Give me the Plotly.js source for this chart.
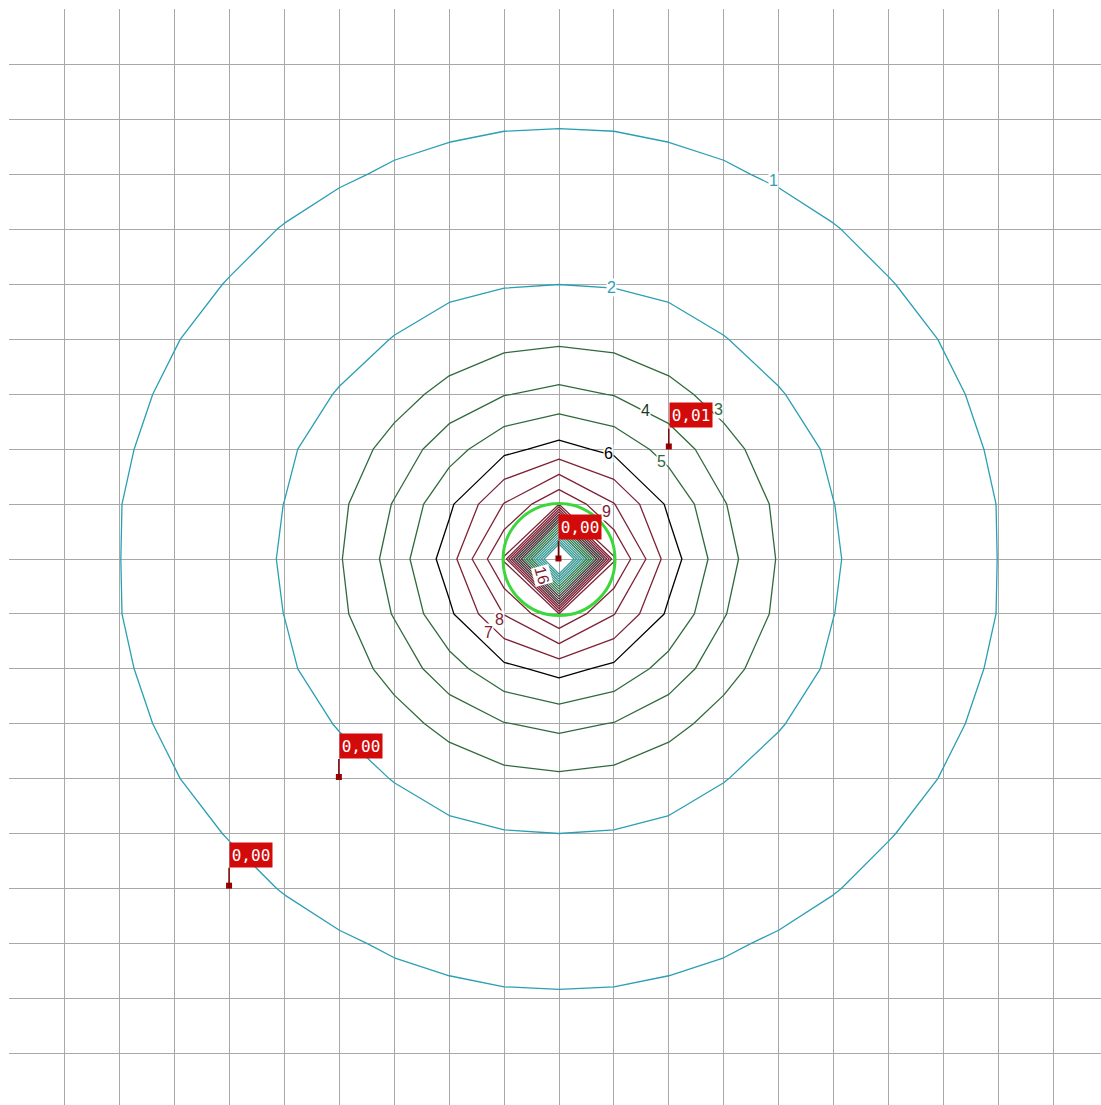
<!DOCTYPE html>
<html>
<head>
<meta charset="utf-8">
<script src="https://cdn.plot.ly/plotly-3.0.1.min.js"></script>
<style>
html,body{margin:0;padding:0;background:#fff;}
#chart{width:1101px;height:1105px;}
</style>
</head>
<body>
<div id="chart"></div>
<script>
// grid node coordinates (grid cells)
const nodeX = [0,1,2,3,4,5,6,7,8,9,10,11,12,13,14,15,16,17,18,19,20];
const nodeY = [0,1,2,3,4,5,6,7,8,9,10,11,12,13,14,15,16,17,18,19,20];

// estimated field values at grid nodes (read off the contour positions)
const zValues = [
[0.33,0.36,0.40,0.44,0.48,0.52,0.56,0.59,0.62,0.63,0.64,0.63,0.62,0.59,0.56,0.52,0.48,0.44,0.40,0.36,0.33],
[0.36,0.40,0.45,0.50,0.56,0.61,0.66,0.71,0.74,0.77,0.78,0.77,0.74,0.71,0.66,0.61,0.56,0.50,0.45,0.40,0.36],
[0.40,0.45,0.51,0.58,0.65,0.72,0.79,0.86,0.91,0.95,0.96,0.95,0.91,0.86,0.79,0.72,0.65,0.58,0.51,0.45,0.40],
[0.44,0.51,0.58,0.67,0.76,0.85,0.95,1.05,1.13,1.19,1.21,1.19,1.13,1.05,0.95,0.85,0.76,0.67,0.58,0.51,0.44],
[0.49,0.57,0.66,0.76,0.88,1.02,1.16,1.31,1.43,1.51,1.54,1.51,1.43,1.31,1.16,1.02,0.88,0.76,0.66,0.57,0.49],
[0.53,0.63,0.74,0.87,1.02,1.21,1.41,1.63,1.81,1.95,2.00,1.95,1.81,1.63,1.41,1.21,1.02,0.87,0.74,0.63,0.53],
[0.57,0.68,0.81,0.98,1.18,1.43,1.71,2.03,2.39,2.69,2.82,2.69,2.39,2.03,1.71,1.43,1.18,0.98,0.81,0.68,0.57],
[0.61,0.73,0.88,1.08,1.34,1.65,2.05,2.62,3.31,3.96,4.25,3.96,3.31,2.62,2.05,1.65,1.34,1.08,0.88,0.73,0.61],
[0.64,0.77,0.94,1.17,1.47,1.86,2.44,3.35,4.60,5.73,6.35,5.73,4.60,3.35,2.44,1.86,1.47,1.17,0.94,0.77,0.64],
[0.66,0.80,0.99,1.24,1.56,2.01,2.78,4.07,5.81,8.04,9.95,8.04,5.81,4.07,2.78,2.01,1.56,1.24,0.99,0.80,0.66],
[0.67,0.81,0.995,1.26,1.60,2.07,2.92,4.40,6.50,10.10,32.0,10.10,6.50,4.40,2.92,2.07,1.60,1.26,0.995,0.81,0.67],
[0.66,0.80,0.99,1.24,1.56,2.01,2.78,4.07,5.81,8.04,9.95,8.04,5.81,4.07,2.78,2.01,1.56,1.24,0.99,0.80,0.66],
[0.64,0.77,0.94,1.17,1.47,1.86,2.44,3.35,4.60,5.73,6.35,5.73,4.60,3.35,2.44,1.86,1.47,1.17,0.94,0.77,0.64],
[0.61,0.73,0.88,1.08,1.34,1.65,2.05,2.62,3.31,3.96,4.25,3.96,3.31,2.62,2.05,1.65,1.34,1.08,0.88,0.73,0.61],
[0.57,0.68,0.81,0.98,1.18,1.43,1.71,2.03,2.39,2.69,2.82,2.69,2.39,2.03,1.71,1.43,1.18,0.98,0.81,0.68,0.57],
[0.53,0.63,0.74,0.87,1.02,1.21,1.41,1.63,1.81,1.95,2.00,1.95,1.81,1.63,1.41,1.21,1.02,0.87,0.74,0.63,0.53],
[0.49,0.57,0.66,0.76,0.88,1.02,1.16,1.31,1.43,1.51,1.54,1.51,1.43,1.31,1.16,1.02,0.88,0.76,0.66,0.57,0.49],
[0.44,0.51,0.58,0.67,0.76,0.85,0.95,1.05,1.13,1.19,1.21,1.19,1.13,1.05,0.95,0.85,0.76,0.67,0.58,0.51,0.44],
[0.40,0.45,0.51,0.58,0.65,0.72,0.79,0.86,0.91,0.95,0.96,0.95,0.91,0.86,0.79,0.72,0.65,0.58,0.51,0.45,0.40],
[0.36,0.40,0.45,0.50,0.56,0.61,0.66,0.71,0.74,0.77,0.78,0.77,0.74,0.71,0.66,0.61,0.56,0.50,0.45,0.40,0.36],
[0.33,0.36,0.40,0.44,0.48,0.52,0.56,0.59,0.62,0.63,0.64,0.63,0.62,0.59,0.56,0.52,0.48,0.44,0.40,0.36,0.33]
];

// contour level groups: [start, end, colour]
const levelGroups = [
  [1, 2, '#2b9fb3'],
  [3, 5, '#2f6a3d'],
  [6, 6, '#000000'],
  [7, 13, '#7e2236'],
  [14, 17, '#4a3238'],
  [18, 21, '#2e7a4c'],
  [22, 26, '#3a9a96']
];

// contour labels
const labelText  = ['1','2','3','4','5','6','7','8','9','16'];
const labelX     = [13.90,10.95,12.90,11.57,11.86,10.91,8.71,8.91,10.86,9.69];
const labelY     = [3.11,5.05,7.27,7.29,8.23,8.07,11.33,11.11,9.14,10.30];
const labelColor = ['#2b9fb3','#2b9fb3','#2f6a3d','#1e3a25','#2f6a3d','#000000','#7e2236','#7e2236','#7e2236','#7e2236'];

// receptor flags
const flagX    = [9.99, 12.00, 5.99, 3.99];
const flagY    = [9.99, 7.95, 13.97, 15.95];
const flagText = ['0,00','0,01','0,00','0,00'];

// highlighted ring around the source
const ringCenter = [10, 10.01];
const ringRadius = 1.02;

const traces = levelGroups.map(g => ({
  type: 'contour',
  x: nodeX, y: nodeY, z: zValues,
  autocontour: false,
  contours: {start: g[0], end: g[1] === g[0] ? g[0] + 0.5 : g[1], size: 1, coloring: 'none', showlabels: false},
  line: {color: g[2], width: 1.3, smoothing: 0},
  showscale: false,
  hoverinfo: 'skip'
}));

traces.push({
  type: 'scatter', mode: 'markers',
  x: flagX, y: flagY,
  marker: {symbol: 'square', size: 6, color: '#9a0000'},
  hoverinfo: 'skip', showlegend: false
});

const annotations = [];
labelText.forEach((t, i) => {
  annotations.push({
    x: labelX[i], y: labelY[i], xref: 'x', yref: 'y',
    text: t, showarrow: false,
    textangle: t === '16' ? 75 : 0,
    font: {family: 'Liberation Sans, Arial, sans-serif', size: 16, color: labelColor[i]},
    bgcolor: 'rgba(255,255,255,1)', borderpad: 0
  });
});
flagText.forEach((t, i) => {
  annotations.push({
    x: flagX[i], y: flagY[i], xref: 'x', yref: 'y',
    text: t, showarrow: true, arrowhead: 0, arrowwidth: 1.5, arrowcolor: '#7a0000',
    ax: 0, ay: -18, xanchor: 'left', yanchor: 'bottom',
    bgcolor: '#d20a0a', borderpad: 1, width: 40, height: 22,
    font: {family: 'DejaVu Sans Mono, monospace', size: 16, color: '#ffffff'}
  });
});

const layout = {
  width: 1101, height: 1105,
  margin: {l: 9, r: 0, t: 9, b: 0},
  paper_bgcolor: '#ffffff', plot_bgcolor: '#ffffff',
  showlegend: false,
  xaxis: {range: [-0.0182, 19.872], tick0: 0, dtick: 1, showgrid: true, gridcolor: '#a8a8a8', gridwidth: 1,
          zeroline: false, showline: false, showticklabels: false, ticks: ''},
  yaxis: {range: [19.945, -0.0182], autorange: false, tick0: 0, dtick: 1, showgrid: true, gridcolor: '#a8a8a8', gridwidth: 1,
          zeroline: false, showline: false, showticklabels: false, ticks: ''},
  shapes: [{
    type: 'circle', xref: 'x', yref: 'y',
    x0: ringCenter[0] - ringRadius, x1: ringCenter[0] + ringRadius,
    y0: ringCenter[1] - ringRadius, y1: ringCenter[1] + ringRadius,
    line: {color: '#3bd83b', width: 3}, layer: 'above'
  }],
  annotations: annotations
};

Plotly.newPlot('chart', traces, layout, {displayModeBar: false, staticPlot: true});
</script>
</body>
</html>
